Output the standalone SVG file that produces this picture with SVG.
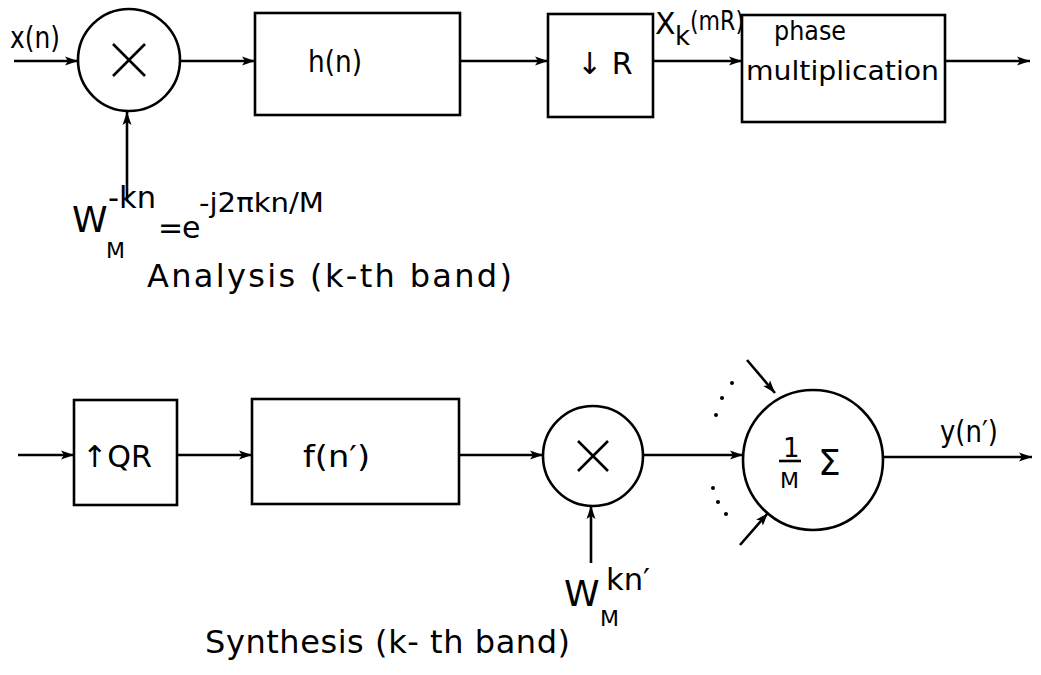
<svg xmlns="http://www.w3.org/2000/svg" width="1041" height="675" viewBox="0 0 1041 675">
<defs>
<marker id="ah" markerWidth="14" markerHeight="10" refX="13" refY="5" orient="auto" markerUnits="userSpaceOnUse">
<path d="M0,0.5 L13,5 L0,9.5 L3,5 Z" fill="#000"/>
</marker>
</defs>
<style>
.b{fill:#fff;stroke:#000;stroke-width:2.6}
.c{fill:none;stroke:#000;stroke-width:2.6;marker-end:url(#ah)}
.l{fill:none;stroke:#000;stroke-width:2.6}
text{font-family:"DejaVu Sans","Liberation Sans",sans-serif;fill:#000}
.t{font-size:30px}
.a{font-size:32px}
.m{font-size:26px}
.s{font-size:22px}
.w{font-size:36px}
</style>
<rect width="1041" height="675" fill="#fff"/>

<g id="connectors">
<line class="c" x1="14" y1="61" x2="78" y2="61"/>
<line class="c" x1="180" y1="61" x2="255" y2="61"/>
<line class="c" x1="460" y1="61" x2="548" y2="61"/>
<line class="c" x1="653" y1="61" x2="742" y2="61"/>
<line class="c" x1="945" y1="61" x2="1030" y2="61"/>
<line class="c" x1="127" y1="200" x2="127" y2="112"/>
<line class="c" x1="18" y1="455" x2="74" y2="455"/>
<line class="c" x1="177" y1="455" x2="252" y2="455"/>
<line class="c" x1="459" y1="455" x2="543" y2="455"/>
<line class="c" x1="644" y1="455" x2="743" y2="455"/>
<line class="c" x1="883" y1="457" x2="1032" y2="457"/>
<line class="c" x1="591" y1="563" x2="591" y2="506"/>
<line class="c" x1="747" y1="360" x2="775" y2="393"/>
<line class="c" x1="740" y1="545" x2="768" y2="513"/>
<g fill="#000">
<circle cx="732" cy="383" r="2"/><circle cx="722" cy="398" r="2"/><circle cx="716" cy="415" r="2"/>
<circle cx="713" cy="488" r="2"/><circle cx="718" cy="502" r="2"/><circle cx="726" cy="514" r="2"/>
</g>
</g>

<g id="mult1">
<circle class="b" cx="129" cy="60" r="51"/>
<path class="l" d="M113,44 L145,76 M145,44 L113,76"/>
</g>
<text class="t" x="10" y="48" textLength="50" lengthAdjust="spacingAndGlyphs">x(n)</text>

<g id="h">
<rect class="b" x="255" y="13" width="205" height="102"/>
<text class="t" x="308" y="72" textLength="54" lengthAdjust="spacingAndGlyphs">h(n)</text>
</g>

<g id="down">
<rect class="b" x="548" y="14" width="105" height="103"/>
<text class="t" x="577" y="74">↓ R</text>
</g>
<text class="t" x="655" y="34">X</text>
<text class="m" x="675" y="45">k</text>
<text class="m" x="690" y="30" textLength="54" lengthAdjust="spacingAndGlyphs">(mR)</text>

<g id="phase">
<rect class="b" x="742" y="15" width="203" height="107"/>
<text class="m" x="774" y="40" textLength="72" lengthAdjust="spacingAndGlyphs">phase</text>
<text class="m" x="746" y="80" textLength="193" lengthAdjust="spacingAndGlyphs">multiplication</text>
</g>

<g id="wlabel1">
<text class="w" x="72" y="232">W</text>
<text class="s" x="106" y="258">M</text>
<text class="t" x="108" y="208" textLength="48" lengthAdjust="spacingAndGlyphs">-kn</text>
<text class="t" x="158" y="238">=</text>
<text class="t" x="182" y="238">e</text>
<text class="m" x="199" y="212" textLength="125" lengthAdjust="spacingAndGlyphs">-j2πkn/M</text>
</g>
<text class="a" x="147" y="287" textLength="365" lengthAdjust="spacing">Analysis  (k-th band)</text>

<g id="up">
<rect class="b" x="74" y="400" width="103" height="105"/>
<text class="t" x="82" y="467" textLength="70" lengthAdjust="spacingAndGlyphs">↑QR</text>
</g>

<g id="f">
<rect class="b" x="252" y="399" width="207" height="105"/>
<text class="t" x="303" y="467" textLength="67" lengthAdjust="spacingAndGlyphs">f(n′)</text>
</g>

<g id="mult2">
<circle class="b" cx="593" cy="456" r="50"/>
<path class="l" d="M578,441 L608,471 M608,441 L578,471"/>
</g>

<g id="wlabel2">
<text class="w" x="564" y="606">W</text>
<text class="s" x="600" y="626">M</text>
<text class="t" x="606" y="590" textLength="44" lengthAdjust="spacingAndGlyphs">kn′</text>
</g>

<g id="sum">
<circle class="b" cx="813" cy="460" r="70"/>
<text class="m" x="783" y="457">1</text>
<line class="l" x1="779" y1="461" x2="801" y2="461"/>
<text class="s" x="780" y="488">M</text>
<text class="w" x="818" y="475">Σ</text>
</g>
<text class="t" x="940" y="442" textLength="58" lengthAdjust="spacingAndGlyphs">y(n′)</text>

<text class="a" x="205" y="653" textLength="365" lengthAdjust="spacing">Synthesis  (k- th band)</text>
</svg>
